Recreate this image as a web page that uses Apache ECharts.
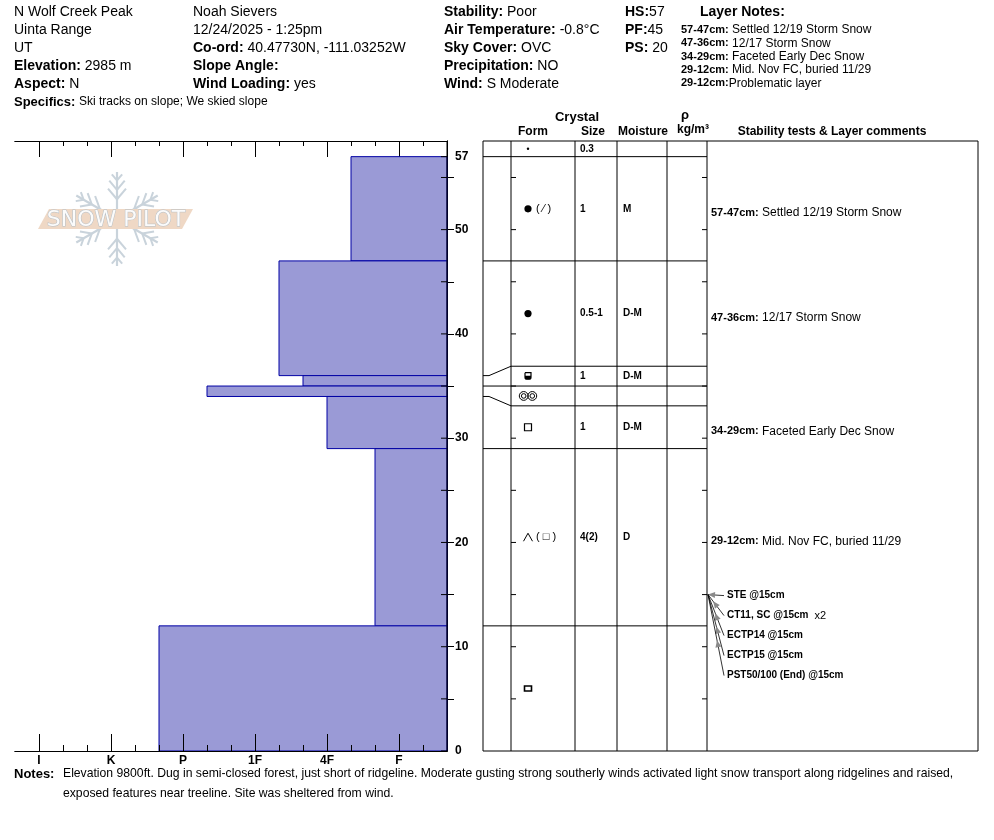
<!DOCTYPE html>
<html><head><meta charset="utf-8">
<script src="https://cdn.jsdelivr.net/npm/echarts@6/dist/echarts.min.js"></script>
<style>html,body{margin:0;padding:0;background:#fff}#c{width:994px;height:840px}</style>
</head><body><div id="c"></div>
<script>
// ---------------- data ----------------
const HS = 57;
const DEPTH_MAX = 58.5;
const layerTop = [57, 47, 36, 35, 34, 29, 12];
const layerBottom = [47, 36, 35, 34, 29, 12, 0];
const layerHardness = ['4F-', '1F-', '4F+', 'P-', '4F', 'F+', 'P+'];
const layerFormPrimary = ['RG', 'RG', 'FCxr', 'MFcl', 'FC', 'DH', 'IF'];
const layerFormSecondary = ['( ⁄ )', '', '', '', '', '( □ )', ''];
const layerSize = ['1', '0.5-1', '1', '', '1', '4(2)', ''];
const layerMoisture = ['M', 'D-M', 'D-M', '', 'D-M', 'D', ''];
const layerComment = ['Settled 12/19 Storm Snow', '12/17 Storm Snow', '', '', 'Faceted Early Dec Snow', 'Mid. Nov FC, buried 11/29', ''];
const layerConcern = ['', '', '', '', '', 'Problematic layer', ''];
const surfaceForm = 'dot';
const surfaceSize = '0.3';

const hardScale = ['F-','F','F+','4F-','4F','4F+','1F-','1F','1F+','P-','P','P+','K-','K','K+','I-','I','I+'];
const hardTickLabels = ['F', '4F', '1F', 'P', 'K', 'I'];
const depthLabels = [0, 10, 20, 30, 40, 50, 57];
const depthTicks = [0, 5, 10, 15, 20, 25, 30, 35, 40, 45, 50, 55, 57];

const testNames = ['STE @15cm', 'CT11, SC @15cm', 'ECTP14 @15cm', 'ECTP15 @15cm', 'PST50/100 (End) @15cm'];
const testDepth = [15, 15, 15, 15, 15];
const testRepeat = ['', 'x2', '', '', ''];

const headerCol1 = [['', 'N Wolf Creek Peak'], ['', 'Uinta Range'], ['', 'UT'], ['Elevation:', '2985 m'], ['Aspect:', 'N']];
const headerCol2 = [['', 'Noah Sievers'], ['', '12/24/2025 - 1:25pm'], ['Co-ord:', '40.47730N, -111.03252W'], ['Slope Angle:', ''], ['Wind Loading:', 'yes']];
const headerCol3 = [['Stability:', 'Poor'], ['Air Temperature:', '-0.8°C'], ['Sky Cover:', 'OVC'], ['Precipitation:', 'NO'], ['Wind:', ' S Moderate']];
const headerCol4 = [['HS:', '57'], ['PF:', '45'], ['PS:', ' 20']];
const specifics = 'Ski tracks on slope; We skied slope';
const notesText = ['Elevation 9800ft. Dug in semi-closed forest, just short of ridgeline. Moderate gusting strong southerly winds activated light snow transport along ridgelines and raised,',
                   'exposed features near treeline. Site was sheltered from wind.'];

// ---------------- helpers ----------------
const FONT = '"Liberation Sans", Arial, sans-serif';
const hv = h => hardScale.indexOf(h) + 1;
const majorTicks = hardTickLabels.map(hv);
const minorTicks = [];
for (let v = 1; v <= 17; v++) if (majorTicks.indexOf(v) < 0) minorTicks.push(v);

function txt(x, y, text, font, align, extra) {
  return Object.assign({ type: 'text', silent: true, style: {
    x: x, y: y, text: text, font: font, fill: '#000',
    align: align || 'left', verticalAlign: 'middle', textAlign: align || 'left', textVerticalAlign: 'middle'
  } }, extra || {});
}
function rich(x, y, parts, align) {
  const r = {
    b14: { fontFamily: FONT, fontSize: 14, fontWeight: 'bold', fill: '#000', color: '#000' },
    n14: { fontFamily: FONT, fontSize: 14, fill: '#000', color: '#000' },
    b13: { fontFamily: FONT, fontSize: 13, fontWeight: 'bold', fill: '#000', color: '#000' },
    b11: { fontFamily: FONT, fontSize: 11, fontWeight: 'bold', fill: '#000', color: '#000' },
    b10: { fontFamily: FONT, fontSize: 10, fontWeight: 'bold', fill: '#000', color: '#000' },
    n12: { fontFamily: FONT, fontSize: 12, fill: '#000', color: '#000' },
    n11: { fontFamily: FONT, fontSize: 11, fill: '#000', color: '#000' }
  };
  const t = parts.filter(p => p[1] !== '').map(p => '{' + p[0] + '|' + p[1] + '}').join('');
  return { type: 'text', silent: true, style: {
    x: x, y: y, text: t, rich: r, fill: '#000',
    align: align || 'left', verticalAlign: 'middle', textAlign: align || 'left', textVerticalAlign: 'middle'
  } };
}
function ln(x1, y1, x2, y2, color, w) {
  return { type: 'line', silent: true, shape: { x1, y1, x2, y2 }, style: { stroke: color || '#000', lineWidth: w || 1 } };
}

function displayBoundaries(bounds, minT) {
  const d = bounds.slice();
  const n = bounds.length - 1;
  let i = 0;
  while (i < n) {
    if (bounds[i] - bounds[i + 1] < minT) {
      let j = i;
      while (j < n && bounds[j] - bounds[j + 1] < minT) j++;
      const c = (bounds[i] + bounds[j]) / 2, cnt = j - i;
      for (let k = i; k <= j; k++) d[k] = c + (cnt / 2 - (k - i)) * minT;
      i = j;
    } else i++;
  }
  return d;
}
const actualBounds = layerTop.concat([layerBottom[layerBottom.length - 1]]);
const dispBounds = displayBoundaries(actualBounds, 1.9);

// table column offsets (px from table left)
const COLS = [0, 28, 92, 134, 184, 224, 495];

function formSymbol(code, cx, cy) {
  const k = '#000';
  switch (code) {
    case 'dot': return [{ type: 'circle', silent: true, shape: { cx, cy, r: 1.2 }, style: { fill: k } }];
    case 'RG': return [{ type: 'circle', silent: true, shape: { cx, cy, r: 3.6 }, style: { fill: k } }];
    case 'FC': return [{ type: 'rect', silent: true, shape: { x: cx - 3.5, y: cy - 3.5, width: 7, height: 7 }, style: { fill: 'none', stroke: k, lineWidth: 1.2 } }];
    case 'DH': return [{ type: 'polyline', silent: true, shape: { points: [[cx - 4.5, cy + 4], [cx, cy - 4], [cx + 4.5, cy + 4]] }, style: { fill: 'none', stroke: k, lineWidth: 1 } }];
    case 'FCxr': return [
      { type: 'rect', silent: true, shape: { x: cx - 3, y: cy - 3.5, width: 6, height: 6.5, r: [0, 0, 2, 2] }, style: { fill: '#fff', stroke: k, lineWidth: 1.2 } },
      { type: 'rect', silent: true, shape: { x: cx - 3, y: cy - 0.5, width: 6, height: 3.5, r: [0, 0, 2, 2] }, style: { fill: k } }];
    case 'MFcl': return [
      { type: 'circle', silent: true, shape: { cx: cx - 4.3, cy, r: 4.4 }, style: { fill: 'none', stroke: k, lineWidth: 1 } },
      { type: 'circle', silent: true, shape: { cx: cx - 4.3, cy, r: 2.3 }, style: { fill: 'none', stroke: k, lineWidth: 1 } },
      { type: 'circle', silent: true, shape: { cx: cx + 4.3, cy, r: 4.4 }, style: { fill: 'none', stroke: k, lineWidth: 1 } },
      { type: 'circle', silent: true, shape: { cx: cx + 4.3, cy, r: 2.3 }, style: { fill: 'none', stroke: k, lineWidth: 1 } }];
    case 'IF': return [{ type: 'rect', silent: true, shape: { x: cx - 3.5, y: cy - 2.5, width: 7, height: 5 }, style: { fill: '#fff', stroke: k, lineWidth: 1.6 } }];
  }
  return [];
}

// ---------------- render functions ----------------
function renderHardness(params, api) {
  const pTop = api.coord([api.value(0), api.value(1)]);
  const pBot = api.coord([0, api.value(2)]);
  return { type: 'rect', shape: { x: pTop[0], y: pTop[1], width: pBot[0] - pTop[0], height: pBot[1] - pTop[1] },
    style: { fill: '#9a9ad6', stroke: '#0000a4', lineWidth: 1 } };
}

// depth ticks on right edge of the hardness profile (drawn over the bars)
function renderDepthTicks(params, api) {
  const cs = params.coordSys;
  const R = cs.x + cs.width;
  const ch = [];
  depthTicks.forEach(d => {
    const y = api.coord([0, d])[1];
    ch.push(ln(R - 6, y, R, y));
  });
  ch.push(ln(R, cs.y, R, cs.y + cs.height));
  return { type: 'group', children: ch };
}

function renderFrame(params, api) {
  const cs = params.coordSys;
  const L = cs.x, T = cs.y, B = cs.y + cs.height;
  const X = o => api.coord([o, 0])[0];
  const ch = [];
  ch.push({ type: 'rect', silent: true, shape: { x: L, y: T, width: cs.width, height: cs.height }, style: { fill: 'none', stroke: '#000', lineWidth: 1 } });
  for (let c = 1; c < COLS.length - 1; c++) ch.push(ln(X(COLS[c]), T, X(COLS[c]), B));
  depthTicks.forEach(d => {
    if (d === 0 || d === HS) return;
    const y = api.coord([0, d])[1];
    ch.push(ln(X(COLS[1]), y, X(COLS[1]) + 5, y));
    ch.push(ln(X(COLS[5]) - 5, y, X(COLS[5]), y));
  });
  const yHS = api.coord([0, HS])[1];
  const ySurfC = (T + yHS) / 2;
  ch.push.apply(ch, formSymbol(surfaceForm, X(45), ySurfC));
  ch.push(txt(X(97), ySurfC, surfaceSize, 'bold 10px ' + FONT));
  ch.push(ln(L, yHS, X(COLS[5]), yHS));
  return { type: 'group', children: ch };
}

function renderLayer(params, api) {
  const i = params.dataIndex;
  const X = o => api.coord([o, 0])[0];
  const L = X(0);
  const yDT = api.coord([0, dispBounds[i]])[1];
  const yDB = api.coord([0, dispBounds[i + 1]])[1];
  const yAB = api.coord([0, actualBounds[i + 1]])[1];
  const ch = [];
  if (i < layerTop.length - 1) {
    if (Math.abs(yDB - yAB) < 0.5) {
      ch.push(ln(L, yAB, X(COLS[5]), yAB));
    } else {
      ch.push({ type: 'polyline', silent: true, shape: { points: [[L, yAB], [L + 6, yAB], [X(COLS[1]), yDB]] }, style: { fill: 'none', stroke: '#000', lineWidth: 1 } });
      ch.push(ln(X(COLS[1]), yDB, X(COLS[5]), yDB));
    }
  }
  const yc = (yDT + yDB) / 2;
  ch.push.apply(ch, formSymbol(layerFormPrimary[i], X(45), yc));
  if (layerFormSecondary[i]) ch.push(txt(X(53), yc, layerFormSecondary[i], '11px ' + FONT));
  if (layerSize[i]) ch.push(txt(X(97), yc, layerSize[i], 'bold 10px ' + FONT));
  if (layerMoisture[i]) ch.push(txt(X(140), yc, layerMoisture[i], 'bold 10px ' + FONT));
  if (layerComment[i]) ch.push(rich(X(228), yc + 4, [['b11', layerTop[i] + '-' + layerBottom[i] + 'cm:'], ['n12', ' ' + layerComment[i]]]));
  return { type: 'group', children: ch };
}

function renderTest(params, api) {
  const i = params.dataIndex;
  const X = o => api.coord([o, 0])[0];
  const y0 = api.coord([0, api.value(1)])[1];
  const tx = X(244), ty = y0 + 20 * i + 1;
  const sx = tx - 3, sy = ty;
  const ex = X(COLS[5]) + 1, ey = y0;
  const dx = ex - sx, dy = ey - sy, len = Math.sqrt(dx * dx + dy * dy);
  const ux = dx / len, uy = dy / len;
  const dist = i === 0 ? len : Math.min(len, 12 + 6 * i);
  const px = sx + ux * dist, py = sy + uy * dist;
  const bx = px - ux * 7, by = py - uy * 7;
  const ch = [
    ln(sx, sy, ex, ey, '#000', 0.8),
    { type: 'polygon', silent: true, shape: { points: [[px, py], [bx - uy * 3, by + ux * 3], [bx + uy * 3, by - ux * 3]] }, style: { fill: '#8a8a8a' } },
    rich(tx, ty, [['b10', testNames[i]], ['n11', testRepeat[i] ? '  ' + testRepeat[i] : '']])
  ];
  return { type: 'group', children: ch };
}

// ---------------- graphics (header, notes, watermark) ----------------
const graphics = [];
const rowY = [12, 30, 48, 66, 84, 102];
function headerColumn(x, rows) {
  rows.forEach((r, k) => graphics.push(rich(x, rowY[k], [['b14', r[0] ? r[0] + ' ' : ''], ['n14', r[1].replace(/^ /, '')]])));
}
headerColumn(14, headerCol1);
headerColumn(193, headerCol2);
headerColumn(444, headerCol3);
headerCol4.forEach((r, k) => graphics.push(rich(625, rowY[k], [['b14', r[0]], ['n14', r[1]]])));
graphics.push(rich(14, rowY[5], [['b13', 'Specifics: '], ['n12', specifics]]));
graphics.push(txt(700, 12, 'Layer Notes:', 'bold 14px ' + FONT));
(function () {
  let k = 0;
  const ny = [30, 43.3, 56.6, 70, 83.3];
  layerTop.forEach((t, i) => {
    const rng = t + '-' + layerBottom[i] + 'cm:';
    if (layerComment[i]) { graphics.push(rich(681, ny[k], [['b11', rng], ['n12', ' ' + layerComment[i]]])); k++; }
  });
  layerTop.forEach((t, i) => {
    const rng = t + '-' + layerBottom[i] + 'cm:';
    if (layerConcern[i]) { graphics.push(rich(681, ny[k], [['b11', rng], ['n12', layerConcern[i]]])); k++; }
  });
})();
const hb = 'bold 12px ' + FONT;
graphics.push(txt(577, 117, 'Crystal', 'bold 13px ' + FONT, 'center'));
graphics.push(txt(685, 115, 'ρ', 'bold 13px ' + FONT, 'center'));
graphics.push(txt(533, 132, 'Form', hb, 'center'));
graphics.push(txt(593, 132, 'Size', hb, 'center'));
graphics.push(txt(643, 132, 'Moisture', hb, 'center'));
graphics.push(txt(693, 130, 'kg/m³', hb, 'center'));
graphics.push(txt(832, 132, 'Stability tests & Layer comments', hb, 'center'));
graphics.push(txt(14, 774, 'Notes:', 'bold 13px ' + FONT));
graphics.push(txt(63, 774, notesText[0], '12.2px ' + FONT));
graphics.push(txt(63, 794, notesText[1], '12.2px ' + FONT));
(function () {
  const cx = 117, cy = 219, r = 47, col = '#c9d3db';
  for (let k = 0; k < 6; k++) {
    const a = Math.PI / 2 + k * Math.PI / 3;
    const ca = Math.cos(a), sa = Math.sin(a);
    graphics.push(ln(cx, cy, cx + r * ca, cy - r * sa, col, 2.2));
    [[0.42, 14], [0.62, 12], [0.82, 8]].forEach(tw => {
      const px = cx + tw[0] * r * ca, py = cy - tw[0] * r * sa;
      [-1, 1].forEach(s => {
        const b = a + s * Math.PI / 4.5;
        graphics.push(ln(px, py, px + tw[1] * Math.cos(b), py - tw[1] * Math.sin(b), col, 2));
      });
    });
  }
  graphics.push({ type: 'polygon', silent: true, shape: { points: [[38, 229], [49, 209], [193, 209], [182, 229]] }, style: { fill: '#efd8c5' } });
  graphics.push({ type: 'text', silent: true, style: { x: 116, y: 220, text: 'SNOW PILOT', font: '22px "DejaVu Sans", sans-serif', fill: '#fbfbfb', stroke: '#b5bfc7', lineWidth: 1,
    align: 'center', verticalAlign: 'middle', textAlign: 'center', textVerticalAlign: 'middle' } });
})();

// ---------------- option ----------------
const axisBlack = { show: true, lineStyle: { color: '#000', width: 1 } };
const option = {
  animation: false,
  backgroundColor: '#fff',
  textStyle: { fontFamily: FONT },
  grid: [
    { left: 15, top: 141, width: 432, height: 610 },
    { left: 483, top: 141, width: 495, height: 610 }
  ],
  xAxis: [
    { gridIndex: 0, type: 'value', min: 0, max: 18, inverse: true, position: 'bottom', axisLine: axisBlack, z: 10,
      axisTick: { show: true, inside: true, length: 17, customValues: majorTicks, lineStyle: { color: '#000' } },
      axisLabel: { show: true, customValues: majorTicks, formatter: v => hardScale[Math.round(v) - 1], color: '#000', fontWeight: 'bold', fontSize: 12, margin: 4, fontFamily: FONT },
      splitLine: { show: false } },
    { gridIndex: 0, type: 'value', min: 0, max: 18, inverse: true, position: 'bottom', axisLine: axisBlack, z: 10,
      axisTick: { show: true, inside: true, length: 6, customValues: minorTicks, lineStyle: { color: '#000' } },
      axisLabel: { show: false }, splitLine: { show: false } },
    { gridIndex: 0, type: 'value', min: 0, max: 18, inverse: true, position: 'top', axisLine: axisBlack,
      axisTick: { show: true, inside: true, length: 16, customValues: majorTicks, lineStyle: { color: '#000' } },
      axisLabel: { show: false }, splitLine: { show: false } },
    { gridIndex: 0, type: 'value', min: 0, max: 18, inverse: true, position: 'top', axisLine: axisBlack,
      axisTick: { show: true, inside: true, length: 5, customValues: minorTicks, lineStyle: { color: '#000' } },
      axisLabel: { show: false }, splitLine: { show: false } },
    { gridIndex: 1, type: 'value', min: 0, max: 495, show: false }
  ],
  yAxis: [
    { gridIndex: 0, type: 'value', min: 0, max: DEPTH_MAX, position: 'right', axisLine: axisBlack,
      axisTick: { show: false },
      axisLabel: { show: true, customValues: depthLabels, color: '#000', fontWeight: 'bold', fontSize: 12, margin: 8, fontFamily: FONT },
      splitLine: { show: false } },
    { gridIndex: 0, type: 'value', min: 0, max: DEPTH_MAX, position: 'left', axisLine: axisBlack,
      axisTick: { show: true, inside: true, length: 7, customValues: depthTicks.filter(d => d > 0 && d < HS), lineStyle: { color: '#000' } },
      axisLabel: { show: false }, splitLine: { show: false } },
    { gridIndex: 1, type: 'value', min: 0, max: DEPTH_MAX, show: false }
  ],
  series: [
    { type: 'custom', xAxisIndex: 0, yAxisIndex: 0, renderItem: renderHardness,
      data: layerTop.map((t, i) => [hv(layerHardness[i]), t, layerBottom[i]]), encode: { x: 0, y: [1, 2] }, z: 2 },
    { type: 'custom', xAxisIndex: 0, yAxisIndex: 0, renderItem: renderDepthTicks, data: [[0, 0]], encode: { x: 0, y: 1 }, z: 6 },
    { type: 'custom', xAxisIndex: 4, yAxisIndex: 2, renderItem: renderFrame, data: [[0, HS]], encode: { x: 0, y: 1 }, z: 3 },
    { type: 'custom', xAxisIndex: 4, yAxisIndex: 2, renderItem: renderLayer,
      data: layerTop.map((t, i) => [0, t, layerBottom[i]]), encode: { x: 0, y: [1, 2] }, z: 4 },
    { type: 'custom', xAxisIndex: 4, yAxisIndex: 2, renderItem: renderTest,
      data: testDepth.map(d => [0, d]), encode: { x: 0, y: 1 }, z: 5 }
  ],
  graphic: { elements: graphics }
};
const chart = echarts.init(document.getElementById('c'));
chart.setOption(option);
</script>
</body></html>
